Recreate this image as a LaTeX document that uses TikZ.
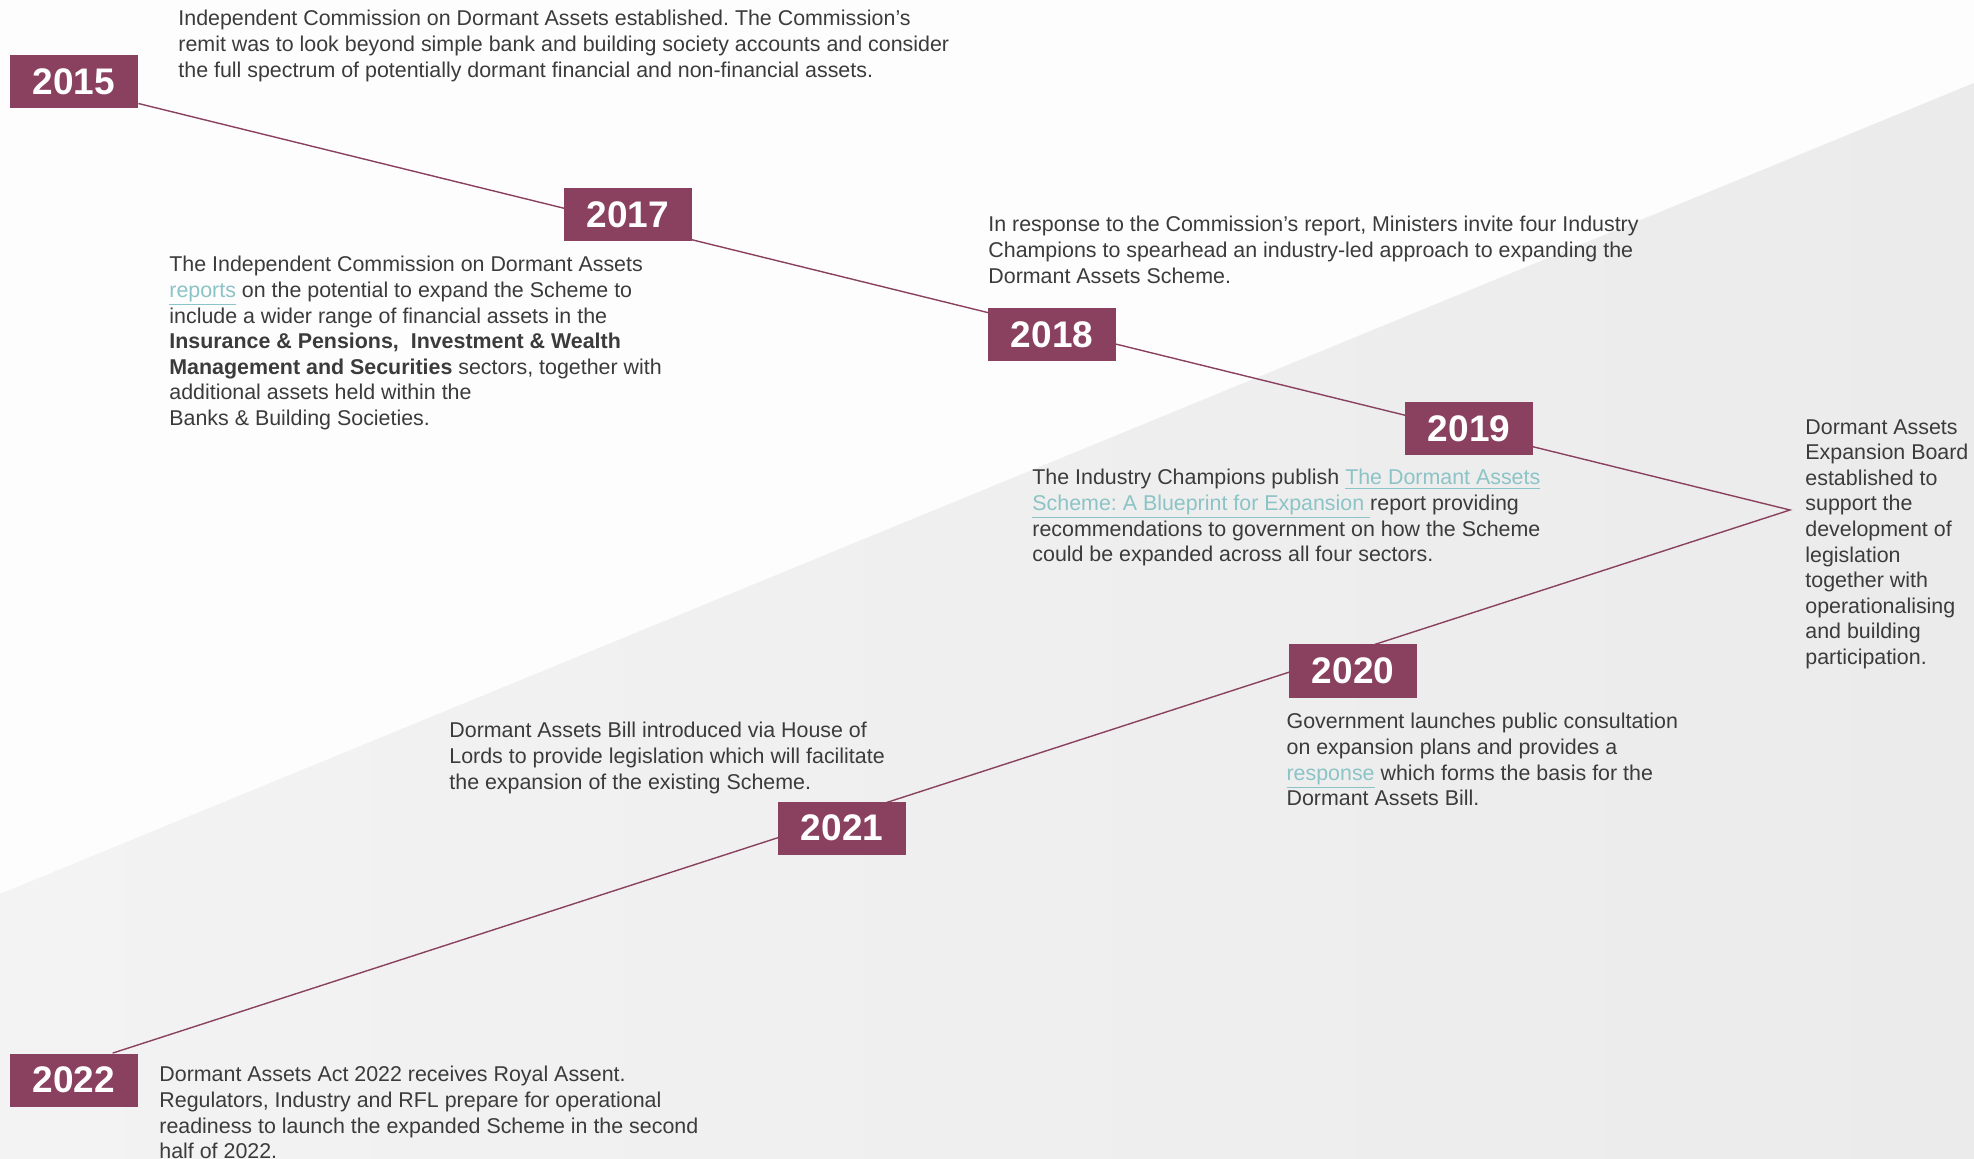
\documentclass[tikz,border=0pt]{standalone}
\usepackage{fontspec}
\setmainfont{Liberation Sans}
\usetikzlibrary{positioning,calc}
\frenchspacing

\definecolor{plum}{HTML}{8A4160}
\definecolor{ink}{HTML}{3B3B3B}
\definecolor{linkteal}{HTML}{8CC3C6}
\definecolor{paper}{HTML}{FDFDFD}
\definecolor{engravingL}{HTML}{F3F3F3}
\definecolor{engravingR}{HTML}{EBEBEB}

\newcommand{\doclink}[1]{\textcolor{linkteal}{\underline{#1}}}

\pgfdeclarelayer{sheet}
\pgfdeclarelayer{wires}
\pgfsetlayers{sheet,wires,main}

\tikzset{
  yearbox/.style={fill=plum, text=white, inner sep=0pt,
    minimum width=64pt, minimum height=26.5pt,
    font=\fontsize{18.5}{22}\selectfont\bfseries},
  note/.style={text=ink, inner sep=0pt, align=left, anchor=north west,
    font=\fontsize{10.7}{12.8}\selectfont},
  timeline/.style={draw=plum, line width=0.7pt}
}

\begin{document}
\begin{tikzpicture}[x=0.5pt, y=-0.5pt]
  \useasboundingbox (0,0) rectangle (1974,1159);

  \node[yearbox] (y2015) at (74,82) {2015};
  \node[yearbox] (y2017) at (628,215) {2017};
  \node[yearbox] (y2018) at (1052,335) {2018};
  \node[yearbox] (y2019) at (1469,429) {2019};
  \node[yearbox] (y2020) at (1353,671) {2020};
  \node[yearbox] (y2021) at (842,828) {2021};
  \node[yearbox] (y2022) at (74,1080) {2022};
  \coordinate (apex) at (1790,510);

  \node[note] (t2015) at (178,10) {Independent Commission on Dormant Assets established. The Commission’s\\
    remit was to look beyond simple bank and building society accounts and consider\\
    the full spectrum of potentially dormant financial and non-financial assets.};
  \node[note] (t2017) at (169,256) {The Independent Commission on Dormant Assets\\
    \doclink{reports} on the potential to expand the Scheme to\\
    include a wider range of financial assets in the\\
    \textbf{Insurance \& Pensions,\ \ Investment \& Wealth}\\
    \textbf{Management and Securities} sectors, together with\\
    additional assets held within the\\
    Banks \& Building Societies.};
  \node[note] (t2018) at (988,216) {In response to the Commission’s report, Ministers invite four Industry\\
    Champions to spearhead an industry-led approach to expanding the\\
    Dormant Assets Scheme.};
  \node[note] (t2019) at (1032,469) {The Industry Champions publish \doclink{The Dormant Assets}\\
    \doclink{Scheme: A Blueprint for Expansion\ }report providing\\
    recommendations to government on how the Scheme\\
    could be expanded across all four sectors.};
  \node[note] (board) at (1805,419) {Dormant Assets\\Expansion Board\\established to\\support the\\development of\\legislation\\together with\\operationalising\\and building\\participation.};
  \node[note, below=7.5pt of y2020.south west, anchor=north west, xshift=-1.2pt] (t2020) {Government launches public consultation\\
    on expansion plans and provides a\\
    \doclink{response} which forms the basis for the\\
    Dormant Assets Bill.};
  \node[note] (t2021) at (449,722) {Dormant Assets Bill introduced via House of\\
    Lords to provide legislation which will facilitate\\
    the expansion of the existing Scheme.};
  \node[note] (t2022) at (159,1066) {Dormant Assets Act 2022 receives Royal Assent.\\
    Regulators, Industry and RFL prepare for operational\\
    readiness to launch the expanded Scheme in the second\\
    half of 2022.};

  \begin{pgfonlayer}{sheet}
    \fill[paper] (0,0) rectangle (1974,1159);
    \shade[left color=engravingL, right color=engravingR]
      (0,894) -- (1974,83) -- (1974,1159) -- (0,1159) -- cycle;
  \end{pgfonlayer}
  \begin{pgfonlayer}{wires}
    \draw[timeline] ($(y2015.east)!0.8!(y2015.south east)$) -- (apex)
      -- ($(y2022.north)!0.6!(y2022.north east)$);
  \end{pgfonlayer}
\end{tikzpicture}
\end{document}
